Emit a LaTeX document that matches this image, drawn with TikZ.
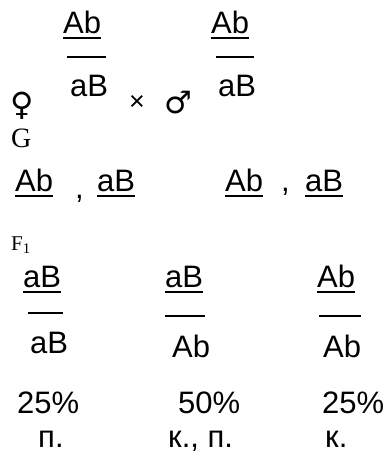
\documentclass[tikz,border=0pt]{standalone}
\usepackage{fontspec}
\setmainfont{Liberation Sans}
\newfontfamily\serifF{Liberation Serif}
\newfontfamily\symF{DejaVu Sans}
\usetikzlibrary{calc}
\tikzset{
  gt/.style={inner sep=0pt, anchor=base west, font=\fontsize{31}{36}\selectfont},
  ul/.style={line width=1.8pt},
  bar/.style={line width=1.4pt},
}
\newcommand{\ulin}[1]{\draw[ul] ($(#1.base west)+(0,5)$) -- ($(#1.base east)+(0,5)$);}
\begin{document}
\begin{tikzpicture}[x=1pt,y=-1pt]
\useasboundingbox (0,0) rectangle (388,456);
% parents
\node[gt] (p1t) at (63,33) {Ab};
\node[gt] (p1b) at (70,96) {aB};
\node[gt] (p2t) at (211,33) {Ab};
\node[gt] (p2b) at (218,96) {aB};
\ulin{p1t}\ulin{p2t}
\draw[bar] (67,57) -- (106,57);
\draw[bar] (216,57) -- (254,57);
\node[inner sep=0pt, font=\symF\fontsize{32}{34}\selectfont] (fem) at (22,106) {♀};
\node[inner sep=0pt, font=\symF\fontsize{31}{34}\selectfont] (mal) at (178,103) {♂};
\node[inner sep=0pt, font=\fontsize{27}{30}\selectfont] (x) at (137,103) {×};
\node[inner sep=0pt, anchor=base west, font=\serifF\fontsize{28}{30}\selectfont] (G) at (11,147) {G};
% gametes
\node[gt] (g1) at (15,191) {Ab};
\node[gt] (c1) at (75,198) {,};
\node[gt] (g2) at (97,191) {aB};
\node[gt] (g3) at (225,191) {Ab};
\node[gt] (c2) at (281,191) {,};
\node[gt] (g4) at (305,191) {aB};
\ulin{g1}\ulin{g2}\ulin{g3}\ulin{g4}
\node[inner sep=0pt, anchor=base west, font=\serifF\fontsize{21}{24}\selectfont] (F) at (11,250) {F\textsubscript{1}};
% offspring
\node[gt] (o1t) at (23,287) {aB};
\node[gt] (o2t) at (165,287) {aB};
\node[gt] (o3t) at (317,287) {Ab};
\ulin{o1t}\ulin{o2t}\ulin{o3t}
\draw[bar] (28,313) -- (63,313);
\draw[bar] (165,316) -- (205,316);
\draw[bar] (319,316) -- (361,316);
\node[gt] (o1b) at (30,353) {aB};
\node[gt] (o2b) at (172,357) {Ab};
\node[gt] (o3b) at (323,357) {Ab};
\node[gt] (r1) at (17,413) {25\%};
\node[gt] (r2) at (178,413) {50\%};
\node[gt] (r3) at (322,413) {25\%};
\node[gt] (t1) at (38,447) {п.};
\node[gt] (t2) at (168,447) {к., п.};
\node[gt] (t3) at (325,447) {к.};
\end{tikzpicture}
\end{document}
